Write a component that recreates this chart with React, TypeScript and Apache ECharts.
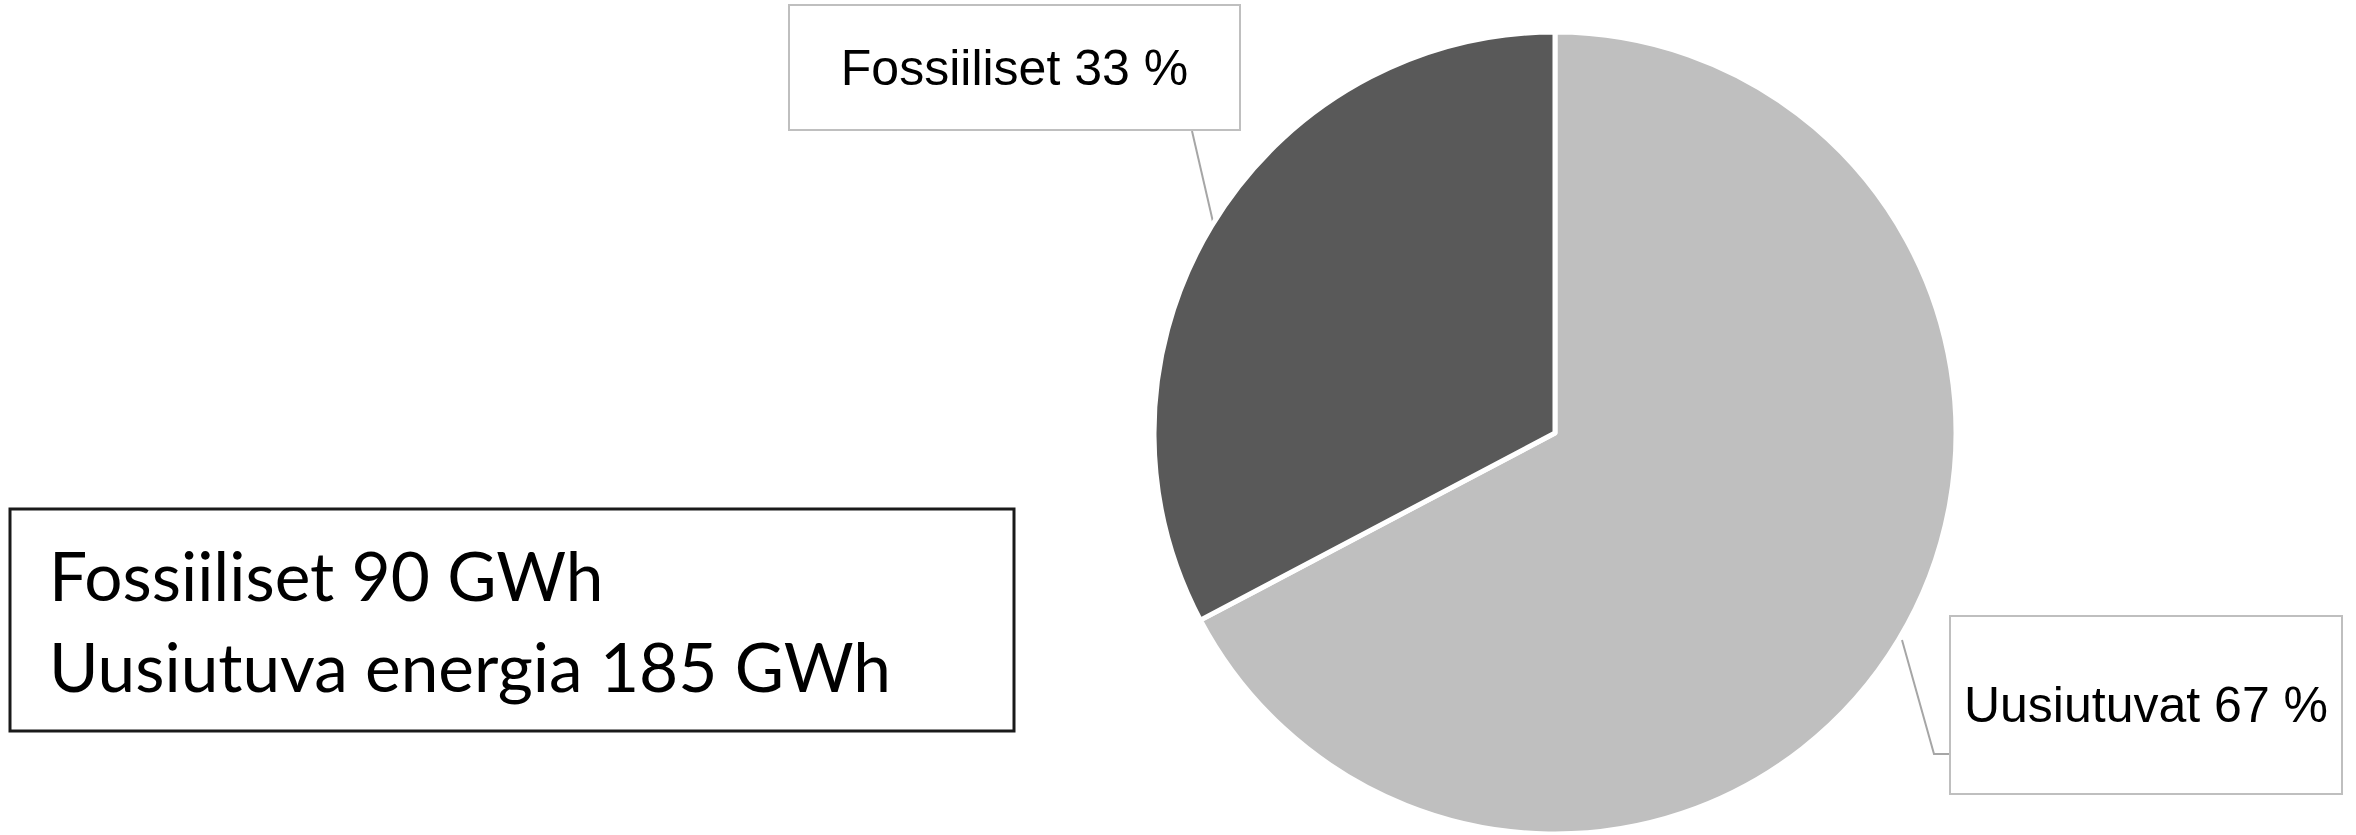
import React, { useEffect, useRef } from 'react';
import * as echarts from 'echarts';

// ---- data ----
const categories = ['Uusiutuvat', 'Fossiiliset'];
const values = [185, 90];
const summaryNames = ['Uusiutuva energia', 'Fossiiliset'];
const summaryOrder = [1, 0];
const unit = 'GWh';
const sliceColors = ['#BFBFBF', '#595959'];

// ---- layout ----
const W = 2356;
const H = 835;
const PIE_CENTER = [1555, 433];
const PIE_RADIUS = 401;
const LABEL_BOXES = [
  { cx: 2146, cy: 705, w: 390, h: 176, padTop: 9, line: [[1902, 640], [1934, 754], [1950, 754]] },
  { cx: 1014.5, cy: 67.5, w: 449, h: 123, padTop: 0, line: [[1213, 222], [1192, 131]] },
];
const SUMMARY_BOX = { x: 10, y: 509, w: 1004, h: 222 };

export default function App() {
  const ref = useRef<HTMLDivElement>(null);

  useEffect(() => {
    if (!ref.current) return;
    const chart = echarts.init(ref.current, undefined, { renderer: 'svg' });

    const data = categories.map((name, i) => {
      const b = LABEL_BOXES[i];
      return {
        name,
        value: values[i],
        itemStyle: { color: sliceColors[i] },
        label: {
          width: b.w,
          height: b.h - b.padTop,
          lineHeight: b.h - b.padTop,
          padding: [b.padTop, 0, 0, 0],
        },
      };
    });

    const summaryLines = summaryOrder.map((i) => `${summaryNames[i]} ${values[i]} ${unit}`);

    chart.setOption({
      animation: false,
      backgroundColor: '#ffffff',
      series: [
        {
          type: 'pie',
          center: PIE_CENTER,
          radius: PIE_RADIUS,
          startAngle: 90,
          clockwise: true,
          percentPrecision: 0,
          avoidLabelOverlap: false,
          emphasis: { disabled: true },
          itemStyle: { borderColor: '#ffffff', borderWidth: 5 },
          label: {
            show: true,
            position: 'outside',
            formatter: '{b} {d} %',
            fontFamily: '"Liberation Sans", Arial, sans-serif',
            fontSize: 50,
            color: '#000000',
            backgroundColor: '#ffffff',
            borderColor: '#BFBFBF',
            borderWidth: 2,
          },
          labelLine: {
            show: true,
            lineStyle: { color: '#A6A6A6', width: 2 },
          },
          labelLayout: (params: any) => {
            const b = LABEL_BOXES[params.dataIndex];
            return {
              x: b.cx,
              y: b.cy,
              align: 'center',
              verticalAlign: 'middle',
              labelLinePoints: b.line,
            };
          },
          data,
        },
      ],
      graphic: [
        {
          type: 'rect',
          shape: { x: SUMMARY_BOX.x, y: SUMMARY_BOX.y, width: SUMMARY_BOX.w, height: SUMMARY_BOX.h },
          style: { fill: '#ffffff', stroke: '#1a1a1a', lineWidth: 3 },
        },
        ...summaryLines.map((t, k) => ({
          type: 'text',
          x: 49,
          y: k === 0 ? 574 : 665,
          style: {
            text: t,
            fontFamily: 'Lato, "Open Sans", sans-serif',
            fontSize: 67.5,
            fill: '#000000',
            verticalAlign: 'middle',
            align: 'left',
          },
        })),
      ],
    });

    return () => chart.dispose();
  }, []);

  return (
    <div
      ref={ref}
      style={{ position: 'absolute', left: 0, top: 0, width: W, height: H }}
    />
  );
}
